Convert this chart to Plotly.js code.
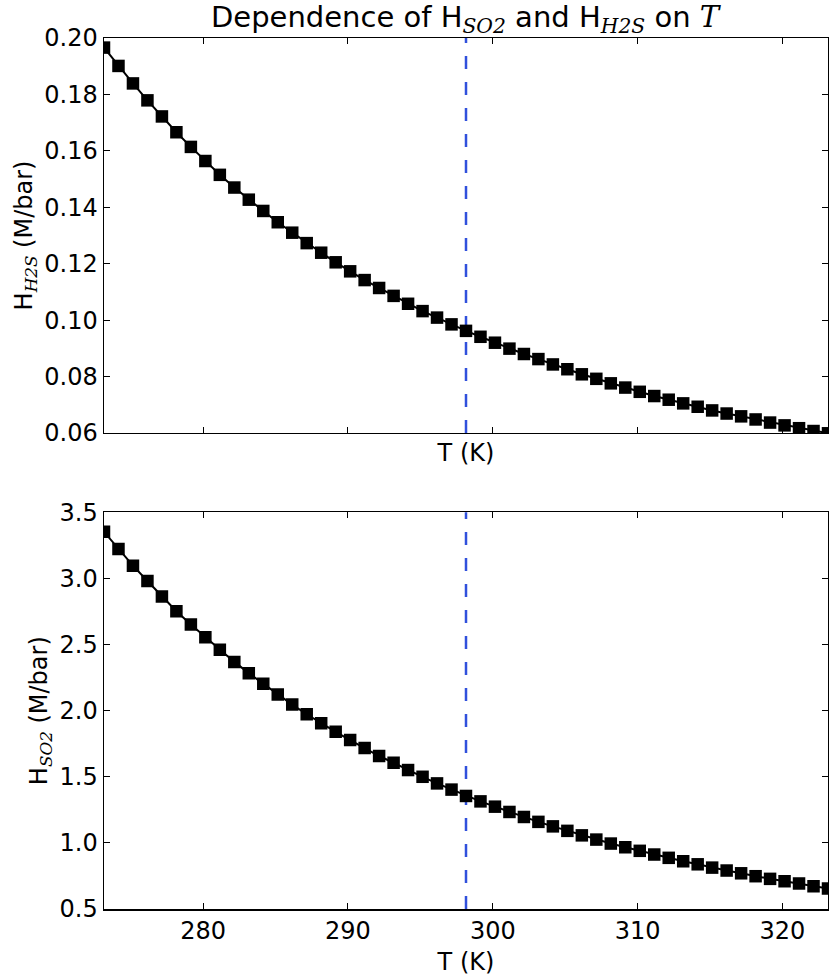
<!DOCTYPE html>
<html>
<head>
<meta charset="utf-8">
<script src="https://cdn.plot.ly/plotly-3.0.1.min.js"></script>
<style>
  body { margin: 0; background: #ffffff; }
  #chart { width: 829px; height: 976px; }
</style>
</head>
<body>
<div id="chart"></div>
<script>
// temperatures (K), one marker per kelvin
var temps = [273.15, 274.15, 275.15, 276.15, 277.15, 278.15, 279.15, 280.15, 281.15, 282.15,
             283.15, 284.15, 285.15, 286.15, 287.15, 288.15, 289.15, 290.15, 291.15, 292.15,
             293.15, 294.15, 295.15, 296.15, 297.15, 298.15, 299.15, 300.15, 301.15, 302.15,
             303.15, 304.15, 305.15, 306.15, 307.15, 308.15, 309.15, 310.15, 311.15, 312.15,
             313.15, 314.15, 315.15, 316.15, 317.15, 318.15, 319.15, 320.15, 321.15, 322.15,
             323.15];

// H2S Henry constant (M/bar)
var hH2S = [0.1966, 0.1901, 0.1839, 0.1779, 0.1722, 0.1666, 0.1614, 0.1564, 0.1515, 0.1470,
            0.1427, 0.1387, 0.1347, 0.1310, 0.1273, 0.1239, 0.1205, 0.1173, 0.1142, 0.1114,
            0.1086, 0.1058, 0.1032, 0.1009, 0.0985, 0.0962, 0.0941, 0.0920, 0.0899, 0.0880,
            0.0862, 0.0843, 0.0826, 0.0808, 0.0792, 0.0776, 0.0761, 0.0746, 0.0731, 0.0718,
            0.0705, 0.0693, 0.0680, 0.0669, 0.0659, 0.0648, 0.0637, 0.0627, 0.0617, 0.0607,
            0.0599];

// SO2 Henry constant (M/bar)
var hSO2 = [3.353, 3.223, 3.097, 2.981, 2.863, 2.752, 2.651, 2.556, 2.460, 2.369,
            2.284, 2.203, 2.122, 2.046, 1.973, 1.905, 1.840, 1.778, 1.717, 1.657,
            1.606, 1.551, 1.500, 1.450, 1.403, 1.355, 1.314, 1.274, 1.234, 1.196,
            1.159, 1.125, 1.091, 1.057, 1.025, 0.995, 0.967, 0.940, 0.912, 0.887,
            0.861, 0.838, 0.813, 0.791, 0.770, 0.748, 0.728, 0.710, 0.693, 0.672,
            0.655];

var refT = 298.15;
var xTicks = [280, 290, 300, 310, 320];
var yTicksH2S = [0.06, 0.08, 0.10, 0.12, 0.14, 0.16, 0.18, 0.20];
var yTicksSO2 = [0.5, 1.0, 1.5, 2.0, 2.5, 3.0, 3.5];

var mathStyle = "font-family:'DejaVu Serif';font-style:italic";
function sub(s) {
    return '<sub><span style="' + mathStyle + '">' + s + '</span></sub>';
}

var lineStyle = { color: '#000000', width: 2 };
var markerStyle = { symbol: 'square', size: 12.5, color: '#000000' };

var data = [
    {
        x: temps, y: hH2S, xaxis: 'x', yaxis: 'y',
        type: 'scatter', mode: 'lines+markers',
        line: lineStyle, marker: markerStyle, hoverinfo: 'skip'
    },
    {
        x: temps, y: hSO2, xaxis: 'x2', yaxis: 'y2',
        type: 'scatter', mode: 'lines+markers',
        line: lineStyle, marker: markerStyle, hoverinfo: 'skip'
    }
];

function axisBase() {
    return {
        showline: true, linecolor: '#000000', linewidth: 1.5, mirror: 'ticks',
        ticks: 'inside', ticklen: 6, tickwidth: 1, tickcolor: '#000000',
        showgrid: false, zeroline: false, fixedrange: true,
        tickfont: { family: 'DejaVu Sans', size: 24, color: '#000000' }
    };
}

var titleFont = { family: 'DejaVu Sans', size: 24, color: '#000000' };

var xaxis = axisBase();
xaxis.anchor = 'y';
xaxis.domain = [0, 1];
xaxis.range = [273.15, 323.15];
xaxis.tickvals = xTicks;
xaxis.showticklabels = false;
xaxis.title = { text: 'T (K)', standoff: 10, font: titleFont };

var yaxis = axisBase();
yaxis.anchor = 'x';
yaxis.domain = [0.5465, 1];
yaxis.range = [0.06, 0.20];
yaxis.tickvals = yTicksH2S;
yaxis.tickformat = '.2f';
yaxis.title = { text: 'H' + sub('H2S') + ' (M/bar)', standoff: 5, font: titleFont };

var xaxis2 = axisBase();
xaxis2.anchor = 'y2';
xaxis2.domain = [0, 1];
xaxis2.range = [273.15, 323.15];
xaxis2.tickvals = xTicks;
xaxis2.title = { text: 'T (K)', standoff: 9, font: titleFont };

var yaxis2 = axisBase();
yaxis2.anchor = 'x2';
yaxis2.domain = [0, 0.4554];
yaxis2.range = [0.5, 3.5];
yaxis2.tickvals = yTicksSO2;
yaxis2.tickformat = '.1f';
yaxis2.title = { text: 'H' + sub('SO2') + ' (M/bar)', standoff: 5, font: titleFont };

var refLine = { color: '#3050dc', width: 2.5, dash: '13px,13px' };

var layout = {
    width: 829,
    height: 976,
    margin: { l: 104, r: 1, t: 38, b: 67 },
    paper_bgcolor: '#ffffff',
    plot_bgcolor: '#ffffff',
    showlegend: false,
    font: { family: 'DejaVu Sans', size: 24, color: '#000000' },
    title: {
        text: 'Dependence of H' + sub('SO2') + ' and H' + sub('H2S') +
              ' on <span style="' + mathStyle + '">T</span>',
        x: 0.561, xanchor: 'center', xref: 'container',
        y: 0.983, yanchor: 'middle', yref: 'container',
        font: { family: 'DejaVu Sans', size: 29, color: '#000000' }
    },
    xaxis: xaxis,
    yaxis: yaxis,
    xaxis2: xaxis2,
    yaxis2: yaxis2,
    shapes: [
        { type: 'line', xref: 'x', yref: 'y domain', x0: refT, x1: refT, y0: 0, y1: 1, line: refLine, layer: 'below' },
        { type: 'line', xref: 'x2', yref: 'y2 domain', x0: refT, x1: refT, y0: 0, y1: 1, line: refLine, layer: 'below' }
    ]
};

Plotly.newPlot('chart', data, layout, { displayModeBar: false, staticPlot: true });
</script>
</body>
</html>
